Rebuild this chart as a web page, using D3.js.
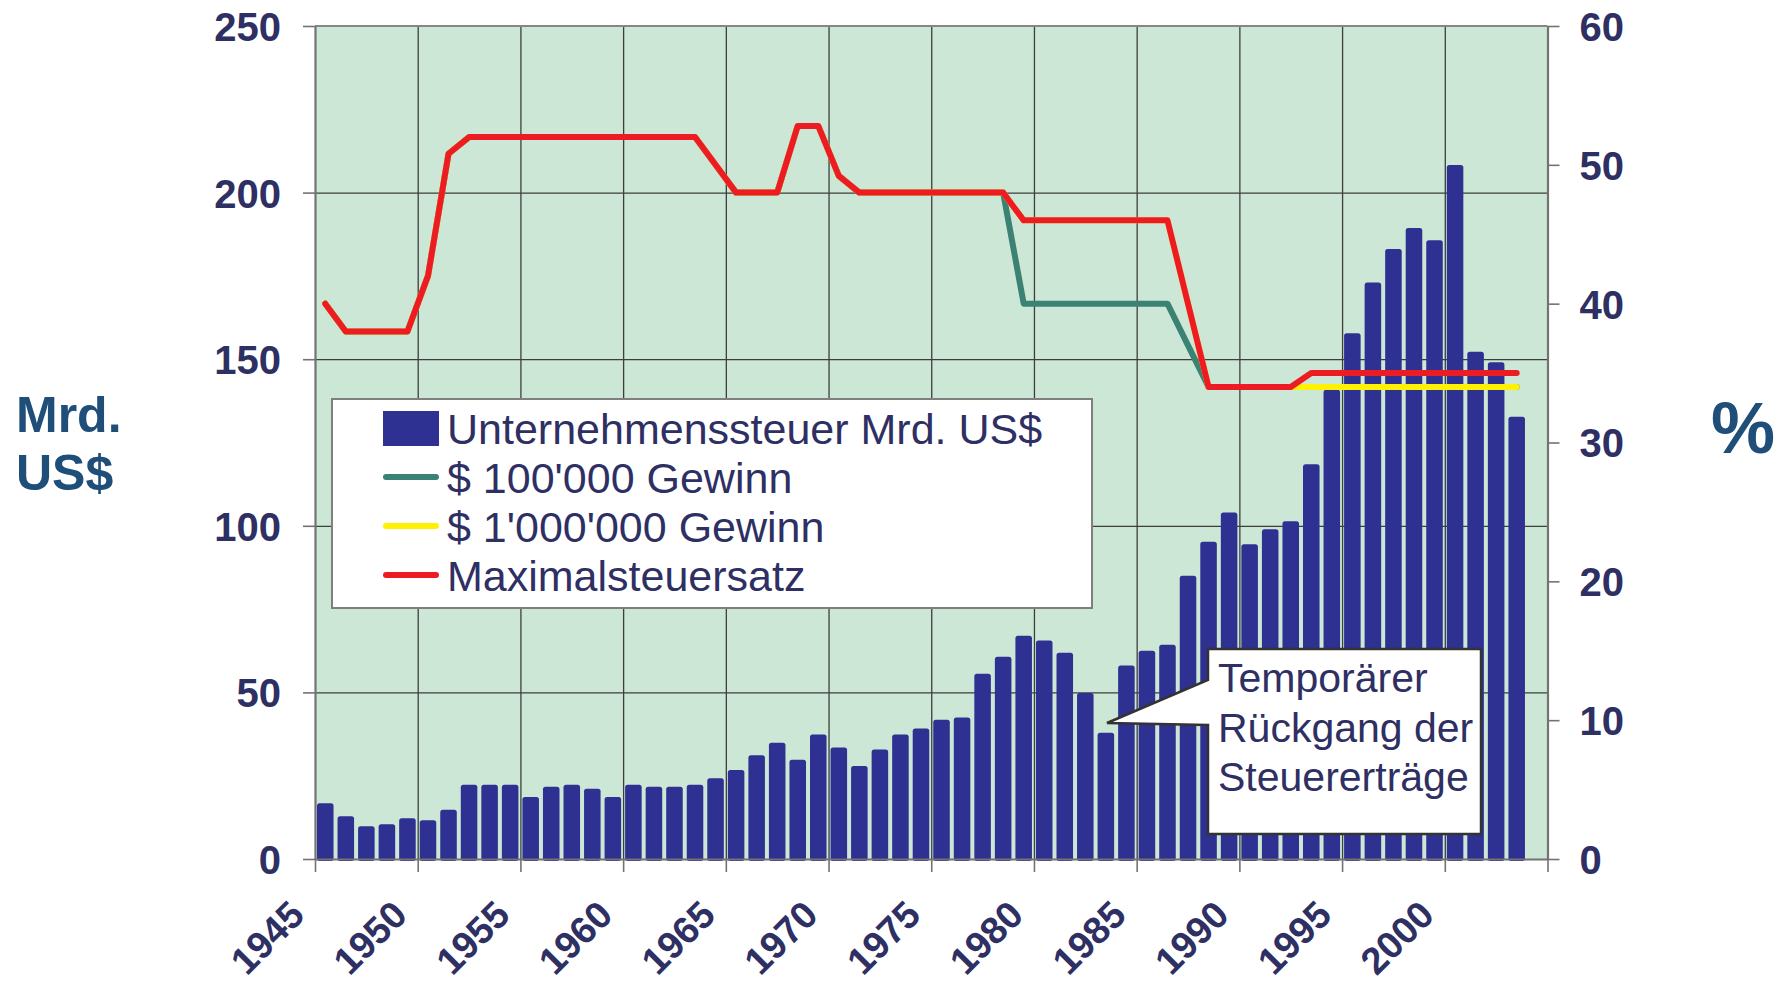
<!DOCTYPE html>
<html>
<head>
<meta charset="utf-8">
<script src="https://cdn.jsdelivr.net/npm/d3@7"></script>
<style>
  html, body { margin: 0; padding: 0; background: #ffffff; }
  svg { display: block; font-family: "Liberation Sans", Arial, sans-serif; }
</style>
</head>
<body>
<div id="chart"></div>
<script>
// US-Unternehmenssteuer vs. Steuersaetze, 1945-2003

const years = [
  1945, 1946, 1947, 1948, 1949, 1950, 1951, 1952, 1953, 1954,
  1955, 1956, 1957, 1958, 1959, 1960, 1961, 1962, 1963, 1964,
  1965, 1966, 1967, 1968, 1969, 1970, 1971, 1972, 1973, 1974,
  1975, 1976, 1977, 1978, 1979, 1980, 1981, 1982, 1983, 1984,
  1985, 1986, 1987, 1988, 1989, 1990, 1991, 1992, 1993, 1994,
  1995, 1996, 1997, 1998, 1999, 2000, 2001, 2002, 2003
];

// Unternehmenssteuer, Mrd. US$ (left axis)
const revenue = [
  16.7, 12.8, 9.8, 10.4, 12.2, 11.6, 14.8, 22.3, 22.3, 22.3,
  18.6, 21.7, 22.3, 21.1, 18.6, 22.3, 21.7, 21.7, 22.3, 24.2,
  26.7, 31.1, 34.9, 29.8, 37.4, 33.5, 27.9, 32.9, 37.4, 39.2,
  41.8, 42.5, 55.6, 60.7, 67.0, 65.6, 61.9, 49.8, 37.9, 58.1,
  62.5, 64.3, 85.0, 95.2, 104.0, 94.5, 99.0, 101.4, 118.5, 140.8,
  157.8, 173.0, 183.1, 189.4, 185.7, 208.3, 152.2, 149.1, 132.7
];

// Maximalsteuersatz, % (right axis)
const topRate = [
  40, 38, 38, 38, 38, 42, 50.8, 52, 52, 52,
  52, 52, 52, 52, 52, 52, 52, 52, 52, 50,
  48, 48, 48, 52.8, 52.8, 49.2, 48, 48, 48, 48,
  48, 48, 48, 48, 46, 46, 46, 46, 46, 46,
  46, 46, 40, 34, 34, 34, 34, 34, 35, 35,
  35, 35, 35, 35, 35, 35, 35, 35, 35
];

// $ 100'000 Gewinn, %
const rate100k = [
  40, 38, 38, 38, 38, 42, 50.8, 52, 52, 52,
  52, 52, 52, 52, 52, 52, 52, 52, 52, 50,
  48, 48, 48, 52.8, 52.8, 49.2, 48, 48, 48, 48,
  48, 48, 48, 48, 40, 40, 40, 40, 40, 40,
  40, 40, 37, 34, 34, 34, 34, 34, 34, 34,
  34, 34, 34, 34, 34, 34, 34, 34, 34
];

// $ 1'000'000 Gewinn, %
const rate1M = [
  40, 38, 38, 38, 38, 42, 50.8, 52, 52, 52,
  52, 52, 52, 52, 52, 52, 52, 52, 52, 50,
  48, 48, 48, 52.8, 52.8, 49.2, 48, 48, 48, 48,
  48, 48, 48, 48, 46, 46, 46, 46, 46, 46,
  46, 46, 40, 34, 34, 34, 34, 34, 34, 34,
  34, 34, 34, 34, 34, 34, 34, 34, 34
];

const leftTicks  = [0, 50, 100, 150, 200, 250];
const rightTicks = [0, 10, 20, 30, 40, 50, 60];
const yearTicks  = [1945, 1950, 1955, 1960, 1965, 1970, 1975, 1980, 1985, 1990, 1995, 2000, 2005];

const legendItems = [
  { label: "Unternehmenssteuer Mrd. US$", type: "bar",  color: "#2e3192" },
  { label: "$ 100'000 Gewinn",            type: "line", color: "#3b8275" },
  { label: "$ 1'000'000 Gewinn",          type: "line", color: "#fff200" },
  { label: "Maximalsteuersatz",           type: "line", color: "#ed1c24" }
];

const calloutLines = ["Temporärer", "Rückgang der", "Steuererträge"];

const TEXT = "#2e2f63";
const TITLE = "#1f4e79";

const W = 1784, H = 983;
const plot = { left: 315, right: 1547.5, top: 26, bottom: 859 };

const svg = d3.select("#chart").append("svg")
  .attr("width", W)
  .attr("height", H);

const x = d3.scaleLinear().domain([1945, 2005]).range([plot.left, plot.right]);
const yL = d3.scaleLinear().domain([0, 250]).range([plot.bottom, plot.top]);
const yR = d3.scaleLinear().domain([0, 60]).range([plot.bottom, plot.top]);

// background
svg.append("rect")
  .attr("x", plot.left).attr("y", plot.top)
  .attr("width", plot.right - plot.left)
  .attr("height", plot.bottom - plot.top)
  .attr("fill", "#cce7d5");

// grid
svg.append("g")
  .attr("transform", `translate(${plot.left},0)`)
  .call(d3.axisLeft(yL).tickValues(leftTicks.slice(1, -1))
    .tickSize(-(plot.right - plot.left)).tickFormat(""))
  .call(g => g.select(".domain").remove())
  .selectAll("line").attr("stroke", "#3e3e3e").attr("stroke-width", 1.3);

svg.append("g")
  .attr("transform", `translate(0,${plot.bottom})`)
  .call(d3.axisBottom(x).tickValues(yearTicks.slice(1, -1))
    .tickSize(-(plot.bottom - plot.top)).tickFormat(""))
  .call(g => g.select(".domain").remove())
  .selectAll("line").attr("stroke", "#3e3e3e").attr("stroke-width", 1.3);

// bars
const slot = x(1946) - x(1945);
const gap = 2;
svg.append("g").selectAll("rect")
  .data(years.map((yr, i) => ({ yr, v: revenue[i] })))
  .join("rect")
  .attr("x", d => x(d.yr) + gap)
  .attr("width", slot - 2 * gap)
  .attr("y", d => yL(d.v))
  .attr("height", d => yL(0) - yL(d.v) + 2)
  .attr("rx", 2.5)
  .attr("fill", "#2e3192");

// plot frame
svg.append("line")
  .attr("x1", plot.left).attr("x2", plot.right)
  .attr("y1", plot.top).attr("y2", plot.top)
  .attr("stroke", "#8a8585").attr("stroke-width", 2);

// tax rate lines
const line = d3.line()
  .x(d => x(d.yr + 0.5))
  .y(d => yR(d.v))
  .curve(d3.curveLinear);

[[rate100k, "#3b8275"], [rate1M, "#fff200"], [topRate, "#ed1c24"]].forEach(([arr, col]) => {
  svg.append("path")
    .datum(years.map((yr, i) => ({ yr, v: arr[i] })))
    .attr("d", line)
    .attr("fill", "none")
    .attr("stroke", col)
    .attr("stroke-width", 6)
    .attr("stroke-linejoin", "round")
    .attr("stroke-linecap", "round");
});

// axes
const axisStyle = g => {
  g.select(".domain").attr("stroke", "#737373").attr("stroke-width", 2.2);
  g.selectAll(".tick line").attr("stroke", "#737373").attr("stroke-width", 1.6);
  g.selectAll("text")
    .attr("fill", TEXT)
    .attr("font-size", 40)
    .attr("font-weight", "bold")
    .attr("font-family", "'Liberation Sans', Arial, sans-serif");
};

svg.append("g")
  .attr("transform", `translate(${plot.left},0)`)
  .call(d3.axisLeft(yL).tickValues(leftTicks).tickSize(12).tickPadding(22).tickSizeOuter(0))
  .call(axisStyle)
  .selectAll("text").attr("dy", "0.36em");

svg.append("g")
  .attr("transform", `translate(${plot.right},0)`)
  .call(d3.axisRight(yR).tickValues(rightTicks).tickSize(12).tickPadding(20).tickSizeOuter(0))
  .call(axisStyle)
  .selectAll("text").attr("dy", "0.36em");

svg.append("g")
  .attr("transform", `translate(0,${plot.bottom})`)
  .call(d3.axisBottom(x).tickValues(yearTicks).tickSize(13).tickSizeOuter(0)
    .tickFormat(d => d === 2005 ? "" : d3.format("d")(d)))
  .call(axisStyle)
  .selectAll("text")
  .attr("font-size", 38)
  .attr("x", 0).attr("y", 0).attr("dy", null)
  .attr("text-anchor", "end")
  .attr("transform", "translate(-9,58) rotate(-45)");

// axis titles
svg.append("text")
  .attr("x", 16).attr("y", 432)
  .attr("fill", TITLE).attr("font-size", 50).attr("font-weight", "bold")
  .text("Mrd.");
svg.append("text")
  .attr("x", 16).attr("y", 490)
  .attr("fill", TITLE).attr("font-size", 50).attr("font-weight", "bold")
  .text("US$");
svg.append("text")
  .attr("x", 1711).attr("y", 453)
  .attr("fill", TITLE).attr("font-size", 72).attr("font-weight", "bold")
  .text("%");

// legend
const legend = svg.append("g");
legend.append("rect")
  .attr("x", 332).attr("y", 399)
  .attr("width", 760).attr("height", 209)
  .attr("fill", "#ffffff")
  .attr("stroke", "#7f7f7f").attr("stroke-width", 2);

const rowY = i => 428 + i * 49;
const li = legend.selectAll("g.item")
  .data(legendItems)
  .join("g")
  .attr("class", "item")
  .attr("transform", (d, i) => `translate(0,${rowY(i)})`);

li.filter(d => d.type === "bar").append("rect")
  .attr("x", 383).attr("y", -17)
  .attr("width", 56).attr("height", 35)
  .attr("fill", d => d.color);

li.filter(d => d.type === "line").append("line")
  .attr("x1", 386).attr("x2", 436)
  .attr("y1", 0).attr("y2", 0)
  .attr("stroke", d => d.color)
  .attr("stroke-width", 6)
  .attr("stroke-linecap", "round");

li.append("text")
  .attr("x", 447).attr("y", 15.5)
  .attr("fill", TEXT)
  .attr("font-size", 43)
  .text(d => d.label);

// callout
const callout = svg.append("g");
callout.append("path")
  .attr("d", "M1208,649 H1481 V834 H1208 V725 L1107,723 L1208,680 Z")
  .attr("fill", "#ffffff")
  .attr("stroke", "#333333")
  .attr("stroke-width", 2.5)
  .attr("stroke-linejoin", "miter");

callout.selectAll("text")
  .data(calloutLines)
  .join("text")
  .attr("x", 1218)
  .attr("y", (d, i) => 692 + i * 49.5)
  .attr("fill", TEXT)
  .attr("font-size", 41)
  .text(d => d);
</script>
</body>
</html>
